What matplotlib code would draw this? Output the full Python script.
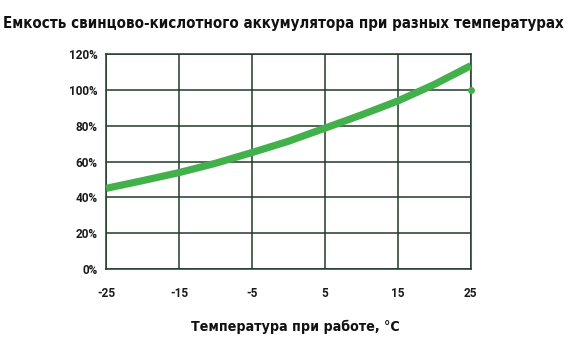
import matplotlib.pyplot as plt
from matplotlib.ticker import FuncFormatter

# Data
temps = [-25, -20, -15, -10, -5, 0, 5, 10, 15, 20, 25]
capacity = [45, 49.3, 53.8, 59, 65, 71.3, 78.6, 86, 93.8, 103, 113.5]
ref_temp = [25]
ref_capacity = [100]

x_ticks = [-25, -15, -5, 5, 15, 25]
y_ticks = [0, 20, 40, 60, 80, 100, 120]

title = 'Емкость свинцово-кислотного аккумулятора при разных температурах'
x_label = 'Температура при работе, °С'

green = '#43b14b'
grid_col = '#203b2a'

plt.rcParams['axes.unicode_minus'] = False

fig = plt.figure(figsize=(5.70, 3.44), dpi=100)
ax = fig.add_axes([0.186, 0.218, 0.640, 0.625])

ax.plot(temps, capacity, color=green, linewidth=5.2, solid_capstyle='butt', zorder=3)
ax.plot(ref_temp, ref_capacity, 'o', color=green, markersize=4, zorder=3, clip_on=False)

ax.set_xlim(-25, 25)
ax.set_ylim(0, 120)
ax.set_xticks(x_ticks)
ax.set_yticks(y_ticks)
ax.yaxis.set_major_formatter(FuncFormatter(lambda v, p: f"{int(v)}%"))
ax.grid(True, color=grid_col, linewidth=1.1)
for s in ax.spines.values():
    s.set_color(grid_col)
    s.set_linewidth(1.1)
ax.tick_params(length=0, labelsize=8.5, colors='#1a1a1a')
ax.tick_params(axis='x', pad=13)
ax.tick_params(axis='y', pad=6)
for lab in ax.get_xticklabels() + ax.get_yticklabels():
    lab.set_fontfamily(['Roboto', 'DejaVu Sans'])
    lab.set_fontweight('bold')

# condensed bold text, as in the reference
fig.text(0.5175, 1 - 331 / 344, x_label, ha='center', va='baseline',
         family='DejaVu Sans', stretch='condensed', fontweight='bold',
         fontsize=10.2, color='#111111')
fig.text(0.498, 1 - 28 / 344, title, ha='center', va='baseline',
         family='DejaVu Sans', stretch='condensed', fontweight='bold',
         fontsize=10.8, color='#111111')

fig.savefig('out.png', dpi=100)
